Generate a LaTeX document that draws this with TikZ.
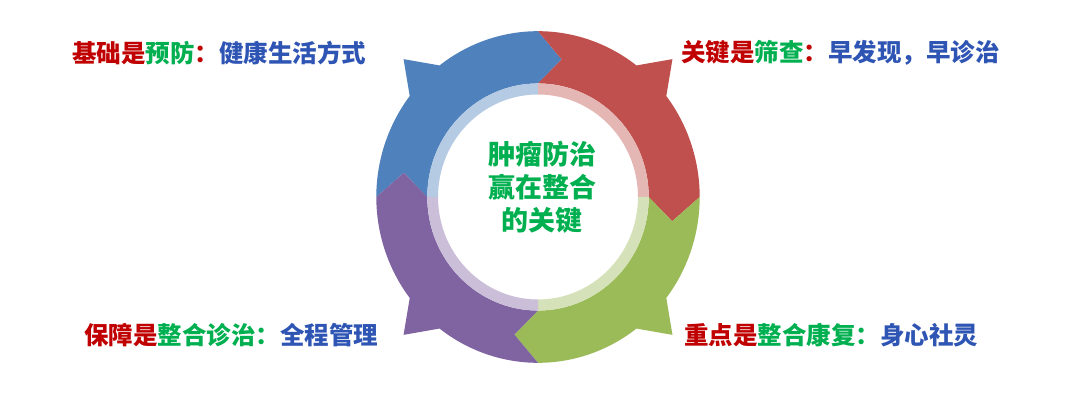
\documentclass[tikz,border=0pt]{standalone}
\usepackage{fontspec}
\newfontfamily\cjk{Noto Sans CJK SC}
\definecolor{cblue}{HTML}{4F81BD}
\definecolor{cred}{HTML}{C0504D}
\definecolor{cgreen}{HTML}{9BBB59}
\definecolor{cpurple}{HTML}{8064A2}
\definecolor{tred}{HTML}{C00000}
\definecolor{tgreen}{HTML}{00B050}
\definecolor{tblue}{HTML}{2F55B4}
\tikzset{
  lbl/.style={anchor=west,inner sep=0pt,font=\cjk\bfseries\fontsize{24.5pt}{28pt}\selectfont},
  ctext/.style={align=center,inner sep=0pt,text=tgreen,font=\cjk\bfseries\fontsize{27pt}{33pt}\selectfont}
}
\newcommand{\seg}[2]{%
  % #1 colour, #2 start angle (counter-clockwise end); segment runs clockwise to #2-90
  \pgfmathsetmacro{\sa}{#2}%
  \pgfmathsetmacro{\ea}{#2-90}%
  \pgfmathsetmacro{\ma}{#2-45}%
  \fill[#1] (\sa:165) arc[start angle=\sa,end angle=\ma+7.5,radius=165]
    -- (\ma:194) -- (\ma-7.5:165)
    arc[start angle=\ma-7.5,end angle=\ea,radius=165]
    -- (\ea-10:139) -- (\ea:113)
    arc[start angle=\ea,end angle=\sa,radius=113]
    -- (\sa-10:139) -- cycle;
  \fill[#1!42!white] (\sa:113) arc[start angle=\sa,end angle=\ea,radius=113]
    -- (\ea:102) arc[start angle=\ea,end angle=\sa,radius=102] -- cycle;
}
\begin{document}
\begin{tikzpicture}[x=1pt,y=1pt]
\useasboundingbox (0,0) rectangle (1080,402);
\fill[white] (0,0) rectangle (1080,402);
\begin{scope}[shift={(538,205)},xscale=0.98,yscale=1.005]
  \seg{cblue}{180}
  \seg{cred}{90}
  \seg{cgreen}{0}
  \seg{cpurple}{270}
\end{scope}
\node[ctext] (center) at (542,215) {肿瘤防治\\赢在整合\\的关键};
\node[lbl] (tl) at (72,349) {\textcolor{tred}{基础是}\textcolor{tgreen}{预防}\textcolor{tred}{：}\textcolor{tblue}{健康生活方式}};
\node[lbl] (tr) at (681,349) {\textcolor{tred}{关键是}\textcolor{tgreen}{筛查}\textcolor{tred}{：}\textcolor{tblue}{早发现，早诊治}};
\node[lbl] (bl) at (84,67) {\textcolor{tred}{保障是}\textcolor{tgreen}{整合诊治：}\textcolor{tblue}{全程管理}};
\node[lbl] (br) at (684,67) {\textcolor{tred}{重点是}\textcolor{tgreen}{整合康复：}\textcolor{tblue}{身心社灵}};
\end{tikzpicture}
\end{document}
